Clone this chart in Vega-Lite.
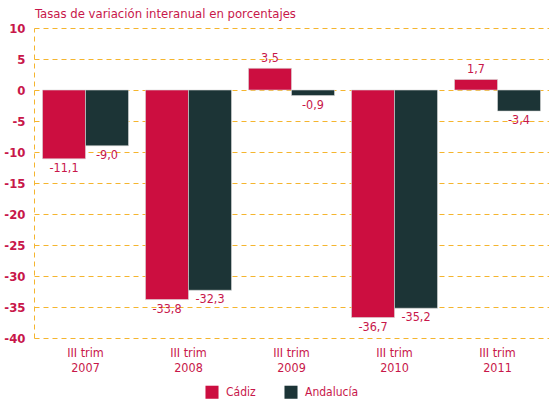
{
  "$schema": "https://vega.github.io/schema/vega-lite/v6.json",
  "width": 515,
  "height": 310,
  "autosize": {"type": "none"},
  "padding": {"left": 34, "top": 28, "right": 0, "bottom": 62},
  "background": "white",
  "title": {
    "text": "Tasas de variación interanual en porcentajes",
    "anchor": "start",
    "frame": "group",
    "offset": 0,
    "dx": 1,
    "dy": -1,
    "font": "DejaVu Sans Condensed",
    "fontSize": 13,
    "fontWeight": "normal",
    "color": "#C8174A"
  },
  "config": {
    "locale": {"number": {"decimal": ",", "thousands": ".", "grouping": [3], "currency": ["", " €"], "minus": "-"}},
    "view": {"stroke": null},
    "font": "DejaVu Sans Condensed"
  },
  "data": {
    "values": [
      {"periodo": "2007", "zona": "Cádiz", "valor": -11.1},
      {"periodo": "2007", "zona": "Andalucía", "valor": -9.0},
      {"periodo": "2008", "zona": "Cádiz", "valor": -33.8},
      {"periodo": "2008", "zona": "Andalucía", "valor": -32.3},
      {"periodo": "2009", "zona": "Cádiz", "valor": 3.5},
      {"periodo": "2009", "zona": "Andalucía", "valor": -0.9},
      {"periodo": "2010", "zona": "Cádiz", "valor": -36.7},
      {"periodo": "2010", "zona": "Andalucía", "valor": -35.2},
      {"periodo": "2011", "zona": "Cádiz", "valor": 1.7},
      {"periodo": "2011", "zona": "Andalucía", "valor": -3.4}
    ]
  },
  "encoding": {
    "x": {
      "field": "periodo",
      "type": "nominal",
      "title": null,
      "scale": {"paddingInner": 0.165, "paddingOuter": 0.0825},
      "axis": {
        "labelExpr": "['III trim', datum.value]",
        "labelAngle": 0,
        "domain": false,
        "ticks": false,
        "labelPadding": 8,
        "labelColor": "#C8174A",
        "labelFont": "DejaVu Sans Condensed",
        "labelFontSize": 12.5,
        "labelLineHeight": 15
      }
    },
    "xOffset": {"field": "zona", "type": "nominal", "sort": ["Cádiz", "Andalucía"]},
    "y": {
      "field": "valor",
      "type": "quantitative",
      "title": null,
      "scale": {"domain": [-40, 10], "nice": false, "zero": false},
      "axis": {
        "values": [-40, -35, -30, -25, -20, -15, -10, -5, 0, 5, 10],
        "format": "d",
        "grid": true,
        "gridColor": "#F5B52E",
        "gridDash": [5, 4],
        "gridWidth": 1,
        "domain": true,
        "domainColor": "#F5B52E",
        "domainDash": [5, 4],
        "domainWidth": 1,
        "ticks": false,
        "labelPadding": 9,
        "labelColor": "#C8174A",
        "labelFont": "DejaVu Sans Condensed",
        "labelFontWeight": "bold",
        "labelFontSize": 13
      }
    }
  },
  "layer": [
    {
      "mark": {"type": "bar", "stroke": "#d8d8d8", "strokeWidth": 0.6},
      "encoding": {
        "y2": {"datum": 0},
        "color": {
          "field": "zona",
          "type": "nominal",
          "sort": ["Cádiz", "Andalucía"],
          "scale": {"domain": ["Cádiz", "Andalucía"], "range": ["#CC0E40", "#1C3436"]},
          "legend": {
            "title": null,
            "orient": "none",
            "legendX": 171,
            "legendY": 357,
            "direction": "horizontal",
            "symbolType": "square",
            "symbolSize": 170,
            "symbolStrokeWidth": 0,
            "labelColor": "#C8174A",
            "labelFont": "DejaVu Sans Condensed",
            "labelFontSize": 12,
            "labelOffset": 7,
            "columnPadding": 28
          }
        }
      }
    },
    {
      "transform": [{"filter": "datum.valor < 0"}],
      "mark": {"type": "text", "baseline": "top", "dy": 3, "color": "#C8174A", "fontSize": 12.5, "font": "DejaVu Sans Condensed"},
      "encoding": {"text": {"field": "valor", "type": "quantitative", "format": ".1f"}}
    },
    {
      "transform": [{"filter": "datum.valor >= 0"}],
      "mark": {"type": "text", "baseline": "bottom", "dy": -3, "color": "#C8174A", "fontSize": 12.5, "font": "DejaVu Sans Condensed"},
      "encoding": {"text": {"field": "valor", "type": "quantitative", "format": ".1f"}}
    }
  ]
}
